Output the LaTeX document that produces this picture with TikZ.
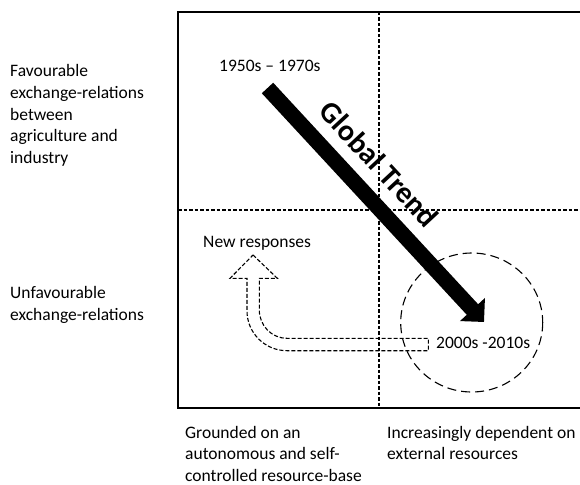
\documentclass[tikz,border=0pt]{standalone}
\usepackage{fontspec}
\setmainfont{Carlito}
\usetikzlibrary{arrows.meta}
\begin{document}
\begin{tikzpicture}[x=1pt,y=-1pt,
  lbl/.style={inner sep=0pt, anchor=base west, align=left,
    font=\fontsize{17.5}{21.7}\selectfont},
  quad/.style={line width=1.1pt, dash pattern=on 3.5pt off 2pt},
  ring/.style={line width=1.1pt, dash pattern=on 9pt off 5pt},
  outline/.style={line width=1.1pt, dash pattern=on 4pt off 2pt, line join=miter},
  trend/.style={line width=15.5pt, -{Triangle[width=33pt,length=17pt]}}]
\useasboundingbox (0,0) rectangle (580,484);

% quadrant frame and dividing lines
\draw[line width=2.7pt] (178,12) rectangle (581,408);
\draw[quad] (379,12) -- (379,408);
\draw[quad] (178,210) -- (580,210);

% row labels (placed by the baseline of their last line)
\node[lbl] (fav) at (10,163.5) {Favourable\\exchange-relations\\between\\agriculture and\\industry};
\node[lbl] (unfav) at (10,320) {Unfavourable\\exchange-relations};

% column labels
\node[lbl] (ground) at (185,481.5) {Grounded on an\\autonomous and self-\\controlled resource-base};
\node[lbl] (depend) at (387,459.8) {Increasingly dependent on\\external resources};

% period labels
\node[lbl] (early) at (219,71.7) {1950s – 1970s};
\node[lbl] (late) at (436,348.3) {2000s -2010s};
\node[lbl] (resp) at (203,247) {New responses};

% recent period circle
\draw[ring] (471.7,322.5) ellipse [x radius=71, y radius=69.5];

% global trend arrow
\coordinate (gs) at (267.5,88);
\coordinate (ge) at (484,322);
\draw[trend] (gs) -- (ge);
\node[font=\bfseries\fontsize{30}{33}\selectfont, rotate=-47.2, inner sep=0pt]
  (gt) at (379,164) {Global Trend};

% hollow bent arrow towards new responses
\draw[outline]
  (253,255) -- (277.3,278.3) -- (259.3,278.3) -- (259.3,310)
  .. controls (259.3,325.5) and (271.5,338.3) .. (287,338.3)
  -- (428.3,338.3) -- (428.3,350.7) -- (287,350.7)
  .. controls (265,350.7) and (247,333) .. (247,311)
  -- (247,278.3) -- (230,278.3) -- cycle;
\end{tikzpicture}
\end{document}
